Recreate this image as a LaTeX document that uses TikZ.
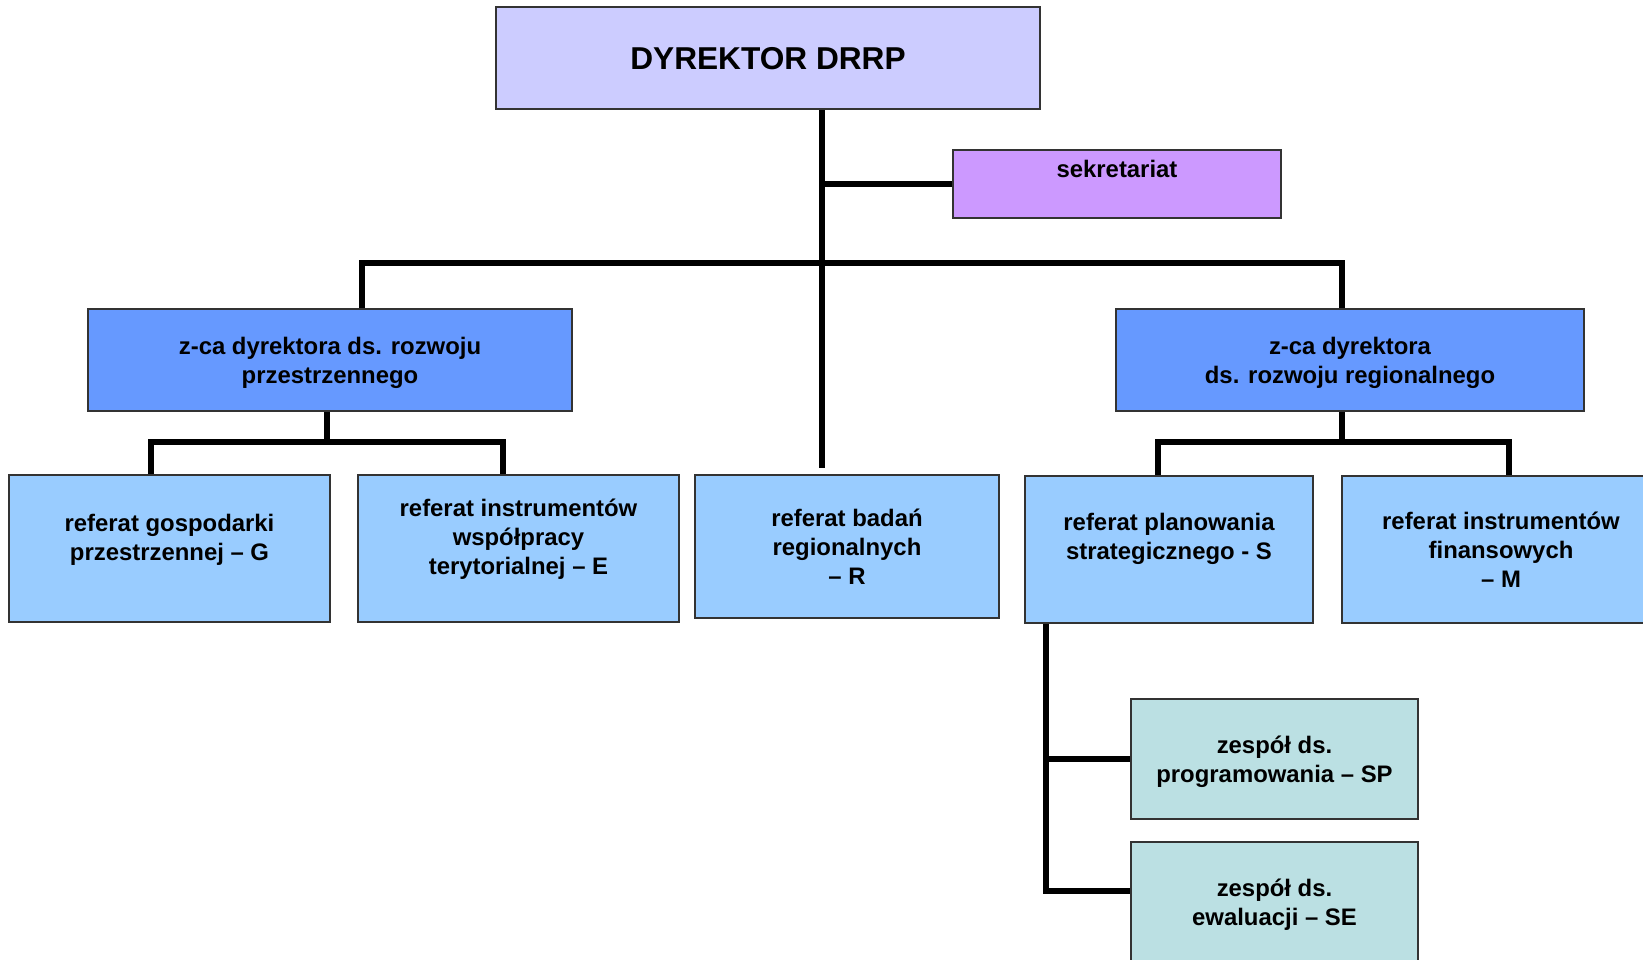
\documentclass[tikz,border=0pt]{standalone}
\usepackage{fontspec}
\setmainfont{Liberation Sans}
\usetikzlibrary{calc}

\definecolor{dyrfill}{HTML}{CCCCFF}
\definecolor{sekfill}{HTML}{CC99FF}
\definecolor{zcafill}{HTML}{6699FF}
\definecolor{reffill}{HTML}{99CCFF}
\definecolor{zesfill}{HTML}{BBE0E3}

\tikzset{
  box/.style={draw=black!80,line width=0.9pt,align=center,inner sep=0pt,text depth=-1.5pt,
    font=\bfseries\fontsize{13.6}{16.4}\selectfont},
  link/.style={line width=3.4pt},
  lifted/.style={text depth=#1},
}

\begin{document}
\begin{tikzpicture}[x=0.02cm,y=-0.02cm]
    \useasboundingbox (0,0) rectangle (1643,960);

    \node[box,fill=dyrfill,minimum width=10.88cm,minimum height=2.04cm,lifted=-2.4pt,
      font=\bfseries\fontsize{18}{21}\selectfont] (dyr) at (768,58) {DYREKTOR DRRP};
    \node[box,fill=sekfill,minimum width=6.56cm,minimum height=1.36cm,lifted=17pt] (sek) at (1117,184) {sekretariat};

    \node[box,fill=zcafill,minimum width=9.68cm,minimum height=2.04cm] (zcaL) at (330,360) {z-ca dyrektora ds. rozwoju\\przestrzennego};
    \node[box,fill=zcafill,minimum width=9.36cm,minimum height=2.04cm] (zcaR) at (1350,360) {z-ca dyrektora\\ds. rozwoju regionalnego};

    \node[box,fill=reffill,minimum width=6.42cm,minimum height=2.94cm,lifted=13pt] (G) at (169.5,548.5) {referat gospodarki\\przestrzennej – G};
    \node[box,fill=reffill,minimum width=6.42cm,minimum height=2.94cm,lifted=13.5pt] (E) at (518.5,548.5) {referat instrumentów\\współpracy\\terytorialnej – E};
    \node[box,fill=reffill,minimum width=6.08cm,minimum height=2.86cm] (R) at (847,546.5) {referat badań\\regionalnych\\– R};
    \node[box,fill=reffill,minimum width=5.76cm,minimum height=2.94cm,lifted=15.4pt] (S) at (1169,549.5) {referat planowania\\strategicznego - S};
    \node[box,fill=reffill,minimum width=6.36cm,minimum height=2.94cm] (M) at (1501,549.5) {referat instrumentów\\finansowych\\– M};

    \node[box,fill=zesfill,minimum width=5.74cm,minimum height=2.4cm] (SP) at (1274.5,759) {zespół ds.\\programowania – SP};
    \node[box,fill=zesfill,minimum width=5.74cm,minimum height=2.4cm] (SE) at (1274.5,902) {zespół ds.\\ewaluacji – SE};

    \coordinate (tr) at (822,468);
    \coordinate (barL) at (362,263);
    \coordinate (barR) at (1342,263);
    \coordinate (jl) at (327,442);
    \coordinate (gl) at (151,442);
    \coordinate (er) at (503,442);
    \coordinate (jr) at (1342,442);
    \coordinate (sl) at (1158,442);
    \coordinate (mr) at (1509,442);
    \coordinate (sd) at (1046,891);

    \draw[link] (tr |- dyr.south) -- (tr);
    \draw[link] (sek.west) -- (sek.west -| tr);
    \draw[link] (zcaL.north -| barL) -- (barL) -- (barR) -- (zcaR.north -| barR);
    \draw[link] (jl |- zcaL.south) -- (jl);
    \draw[link] (G.north -| gl) -- (gl) -- (er) -- (E.north -| er);
    \draw[link] (jr |- zcaR.south) -- (jr);
    \draw[link] (S.north -| sl) -- (sl) -- (mr) -- (M.north -| mr);
    \draw[link] (sd |- S.south) -- (sd) -- (sd -| SE.west);
    \draw[link] (sd |- SP.west) -- (SP.west);
\end{tikzpicture}
\end{document}
